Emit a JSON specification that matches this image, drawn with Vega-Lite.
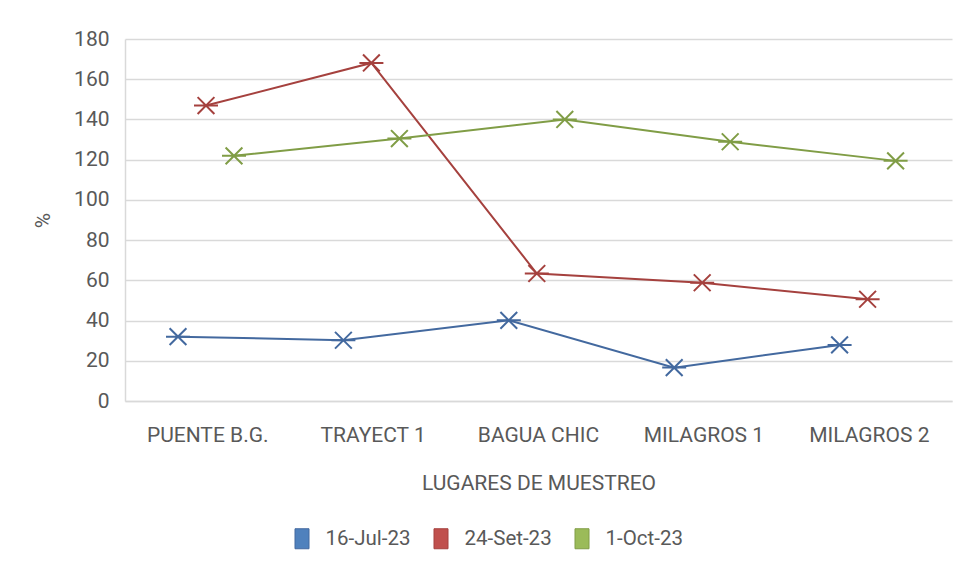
{
  "$schema": "https://vega.github.io/schema/vega-lite/v6.json",
  "autosize": {"type": "none"},
  "padding": {"left": 125, "top": 39, "right": 9, "bottom": 180},
  "width": 827,
  "height": 362,
  "background": "white",
  "config": {
    "font": "Roboto",
    "view": {"stroke": null},
    "axis": {"labelColor": "#595959", "titleColor": "#595959", "labelFontSize": 21, "titleFontSize": 21, "titleFontWeight": "normal", "labelFont": "Roboto", "titleFont": "Roboto"},
    "legend": {"labelColor": "#595959", "labelFontSize": 20.5, "labelFont": "Roboto", "title": null, "orient": "none", "legendX": 166.5, "legendY": 489, "direction": "horizontal", "symbolType": "M-0.7,-1H0.7V1H-0.7Z", "symbolSize": 400, "symbolStrokeWidth": 1, "labelOffset": 13, "columnPadding": 19, "symbolOpacity": 1}
  },
  "data": {
    "values": [
      {"lugar": "PUENTE B.G.", "i": 1, "fecha": "16-Jul-23", "valor": 32},
      {"lugar": "TRAYECT 1", "i": 2, "fecha": "16-Jul-23", "valor": 30.2},
      {"lugar": "BAGUA CHIC", "i": 3, "fecha": "16-Jul-23", "valor": 40.1},
      {"lugar": "MILAGROS 1", "i": 4, "fecha": "16-Jul-23", "valor": 16.6},
      {"lugar": "MILAGROS 2", "i": 5, "fecha": "16-Jul-23", "valor": 27.9},
      {"lugar": "PUENTE B.G.", "i": 1, "fecha": "24-Set-23", "valor": 146.9},
      {"lugar": "TRAYECT 1", "i": 2, "fecha": "24-Set-23", "valor": 168.1},
      {"lugar": "BAGUA CHIC", "i": 3, "fecha": "24-Set-23", "valor": 63.4},
      {"lugar": "MILAGROS 1", "i": 4, "fecha": "24-Set-23", "valor": 58.8},
      {"lugar": "MILAGROS 2", "i": 5, "fecha": "24-Set-23", "valor": 50.6},
      {"lugar": "PUENTE B.G.", "i": 1, "fecha": "1-Oct-23", "valor": 121.9},
      {"lugar": "TRAYECT 1", "i": 2, "fecha": "1-Oct-23", "valor": 130.5},
      {"lugar": "BAGUA CHIC", "i": 3, "fecha": "1-Oct-23", "valor": 140.0},
      {"lugar": "MILAGROS 1", "i": 4, "fecha": "1-Oct-23", "valor": 128.9},
      {"lugar": "MILAGROS 2", "i": 5, "fecha": "1-Oct-23", "valor": 119.4}
    ]
  },
  "encoding": {
    "x": {
      "field": "lugar", "type": "nominal",
      "sort": ["PUENTE B.G.", "TRAYECT 1", "BAGUA CHIC", "MILAGROS 1", "MILAGROS 2"],
      "scale": {"paddingInner": 0, "paddingOuter": 0},
      "axis": {"title": "LUGARES DE MUESTREO", "labelAngle": 0, "ticks": false, "domainColor": "#D9D9D9", "domainWidth": 1.5, "labelPadding": 23, "titlePadding": 27, "grid": false}
    },
    "xOffset": {
      "field": "fecha", "type": "nominal",
      "scale": {"type": "point", "domain": ["16-Jul-23", "24-Set-23", "1-Oct-23"], "range": [53, 109], "padding": 0}
    },
    "y": {
      "field": "valor", "type": "quantitative",
      "scale": {"domain": [0, 180], "nice": false},
      "axis": {"title": "%", "values": [0, 20, 40, 60, 80, 100, 120, 140, 160, 180], "ticks": false, "domainColor": "#D9D9D9", "domainWidth": 1.5, "gridColor": "#D9D9D9", "gridWidth": 1.5, "labelPadding": 16, "titlePadding": 20}
    },
    "order": {"field": "i", "type": "quantitative"}
  },
  "layer": [
    {
      "mark": {"type": "line", "strokeWidth": 2},
      "encoding": {
        "stroke": {
          "field": "fecha", "type": "nominal",
          "scale": {"domain": ["16-Jul-23", "24-Set-23", "1-Oct-23"], "range": ["#43699F", "#A5413E", "#809D46"]}
        }
      }
    },
    {
      "mark": {"type": "point", "shape": "M-0.7,-0.7L0.7,0.7M-0.7,0.7L0.7,-0.7M-1,0L1,0", "size": 576, "strokeWidth": 2, "filled": true, "opacity": 1},
      "encoding": {
        "stroke": {
          "field": "fecha", "type": "nominal",
          "scale": {"domain": ["16-Jul-23", "24-Set-23", "1-Oct-23"], "range": ["#43699F", "#A5413E", "#809D46"]}
        },
        "fill": {
          "field": "fecha", "type": "nominal",
          "scale": {"domain": ["16-Jul-23", "24-Set-23", "1-Oct-23"], "range": ["#4F81BD", "#C0504D", "#9BBB59"]}
        }
      }
    }
  ]
}
